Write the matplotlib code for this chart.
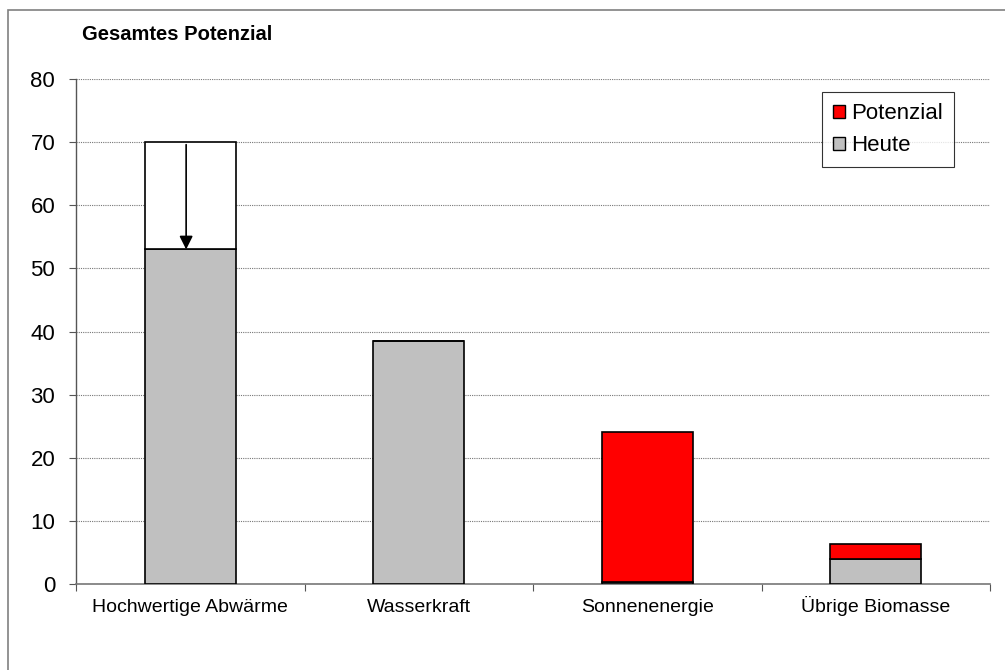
import matplotlib
matplotlib.use("Agg")
import matplotlib.pyplot as plt
from matplotlib.patches import Rectangle, Patch

plt.rcParams['font.family'] = ['Liberation Sans', 'DejaVu Sans']

categories = ["Hochwertige Abwärme", "Wasserkraft", "Sonnenenergie", "Übrige Biomasse"]
heute = [53.0, 38.5, 0.3, 4.0]
potenzial = [17.0, 0.0, 23.8, 2.3]
potenzial_colors = ["#FFFFFF", "#FF0000", "#FF0000", "#FF0000"]
yticks = [0, 10, 20, 30, 40, 50, 60, 70, 80]
title = "Gesamtes Potenzial"

fig = plt.figure(figsize=(10.05, 6.7), dpi=100)
ax = fig.add_axes([76/1005, 1 - 584/670, (990-76)/1005, (584-79)/670])

x = list(range(len(categories)))
w = 0.4
ax.bar(x, heute, width=w, color="#C0C0C0", edgecolor="black", linewidth=1.2, zorder=3)
ax.bar(x, potenzial, width=w, bottom=heute, color=potenzial_colors,
       edgecolor="black", linewidth=1.2, zorder=3)

# arrow in the first bar
top0 = heute[0] + potenzial[0]
ax.annotate("", xy=(-0.018, heute[0]), xytext=(-0.018, top0 - 0.4),
            arrowprops=dict(arrowstyle="-|>", color="black", lw=1.2,
                            mutation_scale=20, shrinkA=0, shrinkB=0), zorder=4)

ax.set_xlim(-0.5, len(categories) - 0.5)
ax.set_ylim(0, 80)
ax.set_yticks(yticks)
ax.set_yticklabels([str(t) for t in yticks], fontsize=16)
ax.yaxis.grid(True, linestyle=(0, (1, 1)), color="#777777", linewidth=0.8, zorder=0)
ax.tick_params(axis='y', length=5, width=0.8, color="#555555", pad=10)

ax.set_xticks(x)
ax.set_xticklabels(categories, fontsize=14)
for lbl in ax.get_xticklabels():
    lbl.set_va('baseline')
ax.tick_params(axis='x', length=0, pad=20)
# category separator ticks
ax.set_xticks([i - 0.5 for i in range(len(categories) + 1)], minor=True)
ax.tick_params(axis='x', which='minor', length=5, width=0.8, color="#555555")

for s in ["top", "right"]:
    ax.spines[s].set_visible(False)
ax.spines["left"].set_color("#555555")
ax.spines["bottom"].set_color("#777777")
ax.spines["left"].set_linewidth(1.0)
ax.spines["bottom"].set_linewidth(1.2)

handles = [Patch(facecolor="#FF0000", edgecolor="black", label="Potenzial"),
           Patch(facecolor="#C0C0C0", edgecolor="black", label="Heute")]
leg = fig.legend(handles=handles, loc="upper left", bbox_to_anchor=(822/1005, 1 - 92/670),
                 fontsize=16, frameon=True, fancybox=False, handlelength=0.55, handleheight=0.55,
                 handletextpad=0.25, borderpad=0.5, labelspacing=0.5, borderaxespad=0)
leg.get_frame().set_edgecolor("black")
leg.get_frame().set_linewidth(0.8)

fig.text(82/1005, 1 - 35/670, title, fontsize=14.5, fontweight="bold", va="center", ha="left")

# outer frame
fig.patches.append(Rectangle((8/1005, -0.1), 1.2, 1 - 10/670 + 0.1, transform=fig.transFigure,
                             fill=False, edgecolor="#808080", linewidth=1.2))

fig.savefig("out.png", dpi=100)
